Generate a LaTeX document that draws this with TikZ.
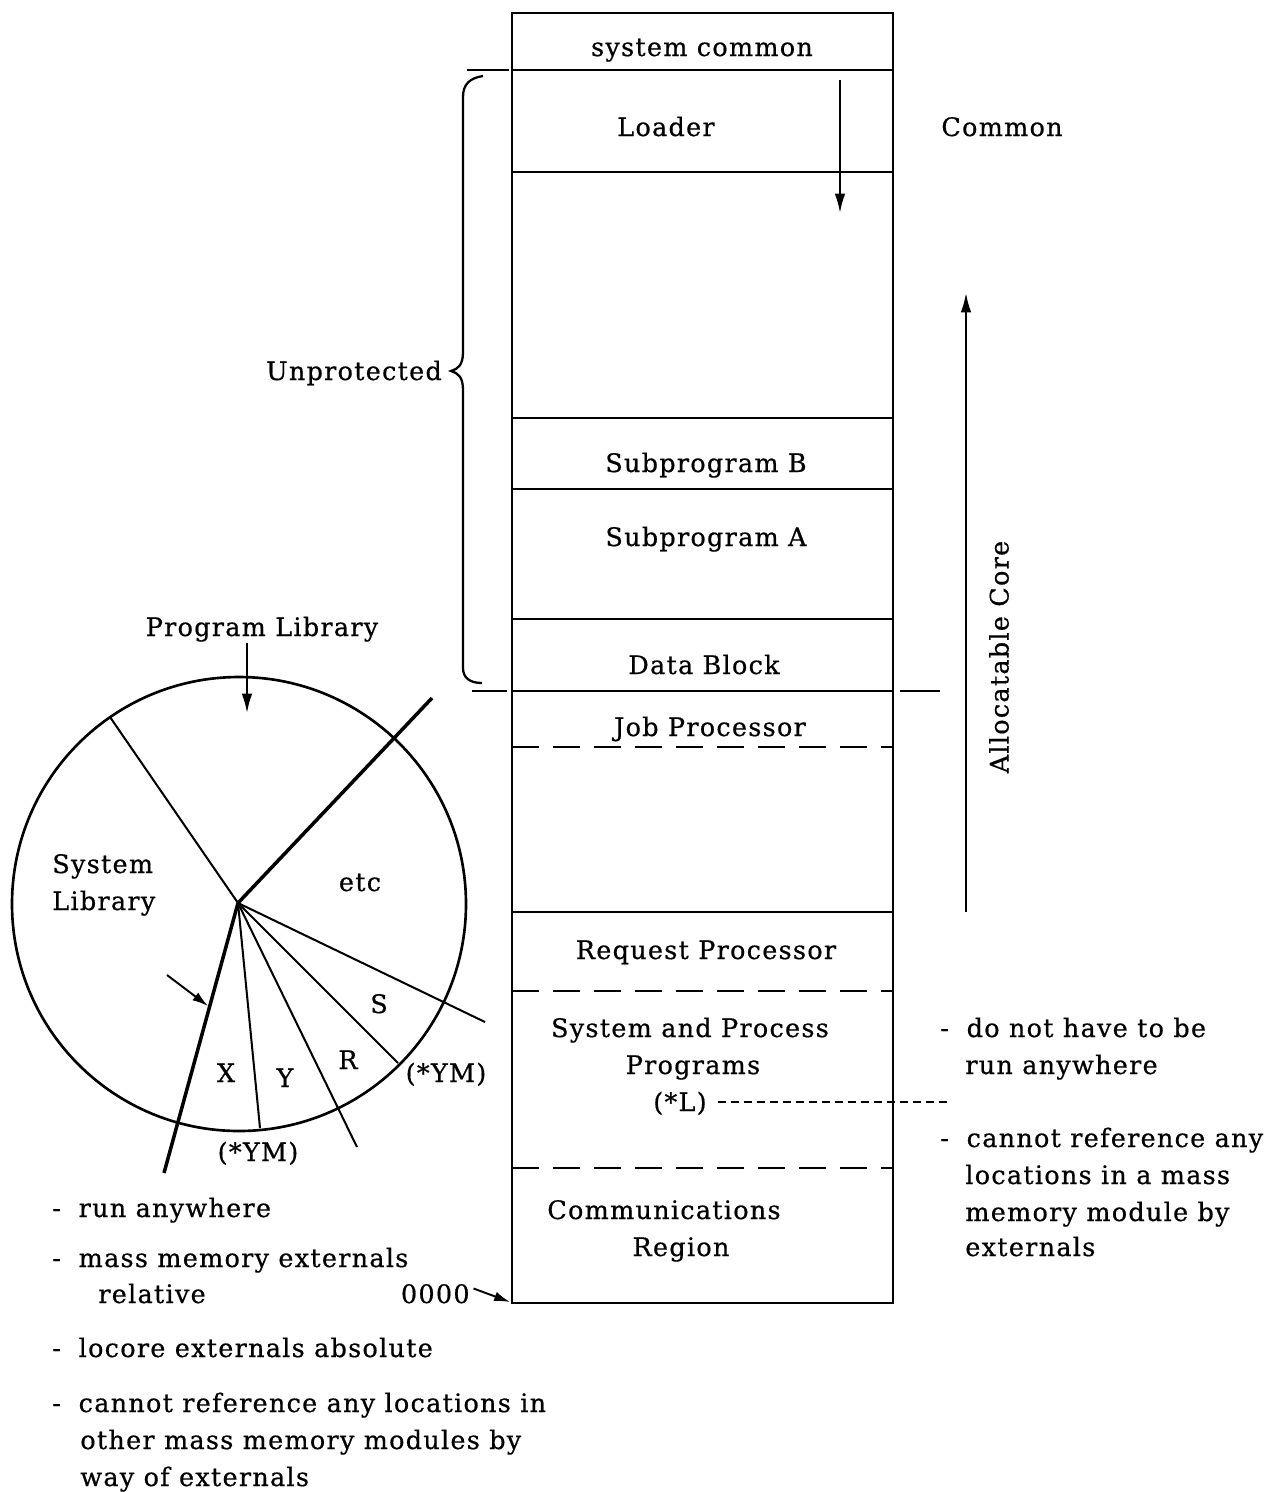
\documentclass[tikz,border=0pt]{standalone}
\usepackage{fontspec}
\setmainfont{DejaVu Serif}[LetterSpace=5,FakeBold=0.6]
\usetikzlibrary{arrows.meta}
\newcommand\dashitem{\makebox[15pt][l]{-}}
\begin{document}
\begin{tikzpicture}[x=0.02cm,y=-0.02cm,
  txt/.style={font=\fontsize{14.5}{21}\selectfont, inner sep=0pt, anchor=base},
  ltxt/.style={txt, anchor=base west},
  ctxt/.style={font=\fontsize{14.5}{21}\selectfont, inner sep=0pt, align=center},
  rule/.style={line width=1.15pt},
  cut/.style={line width=1.15pt, dash pattern=on 0.54cm off 0.28cm},
  fine cut/.style={line width=0.9pt, dash pattern=on 0.17cm off 0.09cm},
  disc/.style={line width=1.5pt},
  spoke/.style={line width=1.15pt},
  heavy spoke/.style={line width=2pt},
  pointer/.style={line width=1.1pt, -{Latex[length=11pt,width=6pt]}},
  small pointer/.style={line width=1.1pt, -{Latex[length=9pt,width=5.5pt]}}
]
\useasboundingbox (0,0) rectangle (1268,1492);

% ---------------- core memory map ----------------
\draw[rule] (512,13) rectangle (893,1303);
\draw[rule] (512,70) -- (893,70);
\draw[rule] (467,70) -- (509,70);
\draw[rule] (512,172) -- (893,172);
\draw[rule] (512,418) -- (893,418);
\draw[rule] (512,489) -- (893,489);
\draw[rule] (512,619) -- (893,619);
\draw[rule] (512,691) -- (893,691);
\draw[rule] (472,691) -- (507,691);
\draw[rule] (900,691) -- (940,691);
\draw[cut] (512,747) -- (893,747);
\draw[rule] (512,912) -- (893,912);
\draw[cut] (512,991) -- (893,991);
\draw[cut] (512,1168) -- (893,1168);

\node[txt] (syscom) at (702,56) {system common};
\node[txt] (loader) at (666,136) {Loader};
\node[txt] (common) at (1002,136) {Common};
\node[txt] (subB) at (706,472) {Subprogram B};
\node[txt] (subA) at (706,546) {Subprogram A};
\node[txt] (data) at (704,674) {Data Block};
\node[txt] (job) at (710,736) {Job Processor};
\node[txt] (req) at (706,959) {Request Processor};
\node[txt] (spp1) at (690,1037) {System and Process};
\node[txt] (spp2) at (693,1074) {Programs};
\node[txt] (starL) at (680,1111) {(*L)};
\node[txt] (comm1) at (664,1219) {Communications};
\node[txt] (comm2) at (681,1256) {Region};

% loading direction and allocation direction
\coordinate (ldtop) at (840,80);
\coordinate (ldbot) at (840,213);
\draw[pointer] (ldtop) -- (ldbot);
\coordinate (altop) at (966,293);
\coordinate (albot) at (966,912);
\draw[pointer] (albot) -- (altop);
\node[ctxt, rotate=90] (alloc) at (999,657) {Allocatable Core};

% unprotected brace
\draw[line width=1.3pt] (483,76) .. controls (470,78) and (463,84) .. (463,97)
  -- (463,352) .. controls (463,365) and (458,369) .. (451,371)
  .. controls (458,373) and (463,377) .. (463,390)
  -- (463,668) .. controls (463,678) and (470,683) .. (482,683);
\node[txt] (unprot) at (354,380) {Unprotected};

% link from (*L) to the notes at right
\coordinate (Lend) at (948,1102);
\draw[fine cut] ([xshift=6pt]starL.east |- Lend) -- (Lend);

% ---------------- mass memory disc ----------------
\coordinate (c) at (239,904);
\coordinate (hub) at (238,903);
\draw[disc] (c) circle (227);
\draw[spoke] (hub) -- (110,717);
\draw[heavy spoke] (hub) -- (432,698);
\draw[spoke] (hub) -- (485,1022);
\draw[spoke] (hub) -- (398,1063);
\draw[spoke] (hub) -- (357,1147);
\draw[spoke] (hub) -- (260,1128);
\draw[heavy spoke] (hub) -- (164,1173);

\node[txt] (plib) at (262,636) {Program Library};
\coordinate (plibtip) at (247,713);
\draw[pointer] (247,643) -- (plibtip);
\node[ltxt] (slib1) at (52,873) {System};
\node[ltxt] (slib2) at (52,910) {Library};
\node[txt] (etc) at (360,891) {etc};
\coordinate (ptrtail) at (167,975);
\coordinate (ptrtip) at (208,1006);
\draw[small pointer] (ptrtail) -- (ptrtip);
\node[txt] (X) at (226,1082) {X};
\node[txt] (Y) at (285,1087) {Y};
\node[txt] (R) at (348,1069) {R};
\node[txt] (S) at (379,1013) {S};
\node[txt] (ym1) at (258,1161) {(*YM)};
\node[txt] (ym2) at (446,1082) {(*YM)};

% ---------------- notes ----------------
\node[ltxt] (n1) at (52,1217) {\dashitem run anywhere};
\node[ltxt] (n2) at (52,1267) {\dashitem mass memory externals};
\node[ltxt] (n2b) at (98,1303) {relative};
\node[txt, anchor=base east] (zero) at (470,1303) {0000};
\coordinate (origin) at (510,1302);
\draw[small pointer] (zero.east) ++(2pt,3pt) -- (origin);
\node[ltxt] (n3) at (52,1357) {\dashitem locore externals absolute};
\node[ltxt] (n4) at (52,1412) {\dashitem cannot reference any locations in};
\node[ltxt] (n4b) at (80,1449) {other mass memory modules by};
\node[ltxt] (n4c) at (80,1486) {way of externals};

\node[ltxt] (r1) at (940,1037) {\dashitem do not have to be};
\node[ltxt] (r1b) at (965,1074) {run anywhere};
\node[ltxt] (r2) at (940,1147) {\dashitem cannot reference any};
\node[ltxt] (r2b) at (965,1184) {locations in a mass};
\node[ltxt] (r2c) at (965,1221) {memory module by};
\node[ltxt] (r2d) at (965,1256) {externals};
\end{tikzpicture}
\end{document}
